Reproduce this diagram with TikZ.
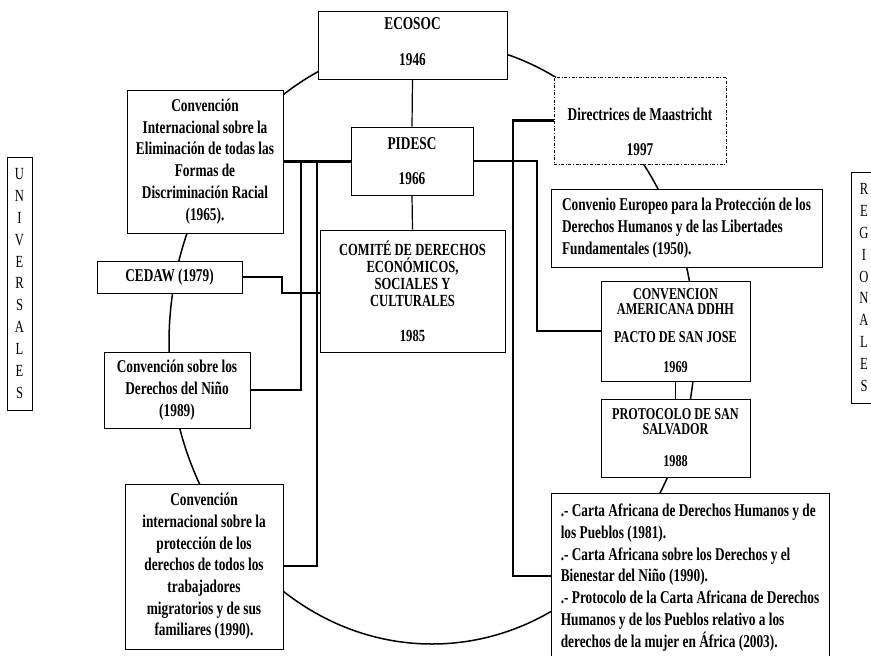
\documentclass[tikz,border=0pt]{standalone}
\usepackage{fontspec}
\setmainfont{Liberation Serif}[FakeStretch=0.74]
\begin{document}
\begin{tikzpicture}[x=1pt,y=-1pt,
  box/.style={draw, fill=white, line width=0.9pt, inner sep=0pt, align=center,
    font=\bfseries\fontsize{18}{21.7}\selectfont},
  capsbox/.style={box, font=\bfseries\fontsize{16.5}{15}\selectfont},
  sidebox/.style={draw, fill=white, line width=0.8pt, inner sep=0pt, align=center,
    font=\fontsize{17}{21.9}\selectfont},
  dashdotbox/.style={box, dash pattern=on 3pt off 1.6pt on 1pt off 1.6pt},
  conn/.style={line width=2.2pt},
  link/.style={line width=1.2pt},
  ring/.style={line width=1.5pt}]
\useasboundingbox (0,0) rectangle (871,656);
\clip (0,0) rectangle (871,656);

% big ellipse
\draw[ring] (432,343) ellipse [x radius=263, y radius=301];

% boxes
\node[box, minimum width=189pt, minimum height=68pt] (ecosoc) at (412.5,45) {\mbox{}\\[-17pt]ECOSOC\\[14pt]1946};
\node[box, minimum width=156pt, minimum height=143pt] (cerd) at (205,161.5)
  {Convención\\Internacional sobre la\\Eliminación de todas las\\Formas de\\Discriminación Racial\\(1965).};
\node[box, minimum width=122pt, minimum height=68pt] (pidesc) at (412,161) {PIDESC\\[13.3pt]1966};
\node[box, minimum width=185pt, minimum height=122pt, font=\bfseries\fontsize{17}{17}\selectfont] (comite) at (412.5,291)
  {COMITÉ DE DERECHOS\\ECONÓMICOS,\\SOCIALES Y\\CULTURALES\\[18pt]1985};
\node[box, minimum width=145pt, minimum height=32pt] (cedaw) at (169.5,277) {CEDAW (1979)};
\node[box, minimum width=146pt, minimum height=76pt] (nino) at (177,390)
  {Convención sobre los\\Derechos del Niño\\(1989)};
\node[box, minimum width=158pt, minimum height=165pt] (migr) at (204,566.5)
  {Convención\\internacional sobre la\\protección de los\\derechos de todos los\\trabajadores\\migratorios y de sus\\familiares (1990).};
\node[dashdotbox, minimum width=172pt, minimum height=87pt] (maas) at (640,120.5)
  {\mbox{}\\[13pt]Directrices de Maastricht\\[13.3pt]1997};
\node[box, align=left, minimum width=271pt, minimum height=78pt] (conv) at (686.5,228)
  {Convenio Europeo para la Protección de los\\Derechos Humanos y de las Libertades\\Fundamentales (1950).};
\node[capsbox, minimum width=149pt, minimum height=100pt] (amer) at (675.5,331)
  {CONVENCION\\AMERICANA DDHH\\[13pt]PACTO DE SAN JOSE\\[15pt]1969};
\node[capsbox, minimum width=149pt, minimum height=78pt] (proto) at (675.5,438)
  {PROTOCOLO DE SAN\\SALVADOR\\[17pt]1988};
\node[box, align=left, minimum width=278pt, minimum height=169pt] (carta) at (690,577.5)
  {.- Carta Africana de Derechos Humanos y de\\los Pueblos (1981).\\.- Carta Africana sobre los Derechos y el\\Bienestar del Niño (1990).\\.- Protocolo de la Carta Africana de Derechos\\Humanos y de los Pueblos relativo a los\\derechos de la mujer en África (2003).};
\node[sidebox, minimum width=25pt, minimum height=253pt] (univ) at (19.5,283.5)
  {U\\N\\I\\V\\E\\R\\S\\A\\L\\E\\S};
\node[sidebox, minimum width=26pt, minimum height=231pt] (regio) at (864,287.5)
  {R\\E\\G\\I\\O\\N\\A\\L\\E\\S};

% junction coordinates
\coordinate (jn) at (301,390);
\coordinate (jmg) at (317,566);
\coordinate (jc) at (282,293);
\coordinate (jr) at (537,331);
\coordinate (jm) at (513,576);

% connectors
\draw[link] (ecosoc.south) -- (pidesc.north);
\draw[link] (pidesc.south) -- (comite.north);
\draw[conn] (cerd.east) -- (cerd.east -| pidesc.west);
\draw[conn] (cerd.east -| jn) -- (jn) -- (nino.east);
\draw[conn] (cerd.east -| jmg) -- (jmg) -- (migr.east |- jmg);
\draw[conn] (cedaw.east) -| (jc) -- (comite.west |- jc);
\draw[conn] (pidesc.east) -| (jr) -- (amer.west);
\draw[conn] (maas.west) -| (jm) -- (carta.west |- jm);
\draw[ring] (amer.south) -- (proto.north);
\end{tikzpicture}
\end{document}
